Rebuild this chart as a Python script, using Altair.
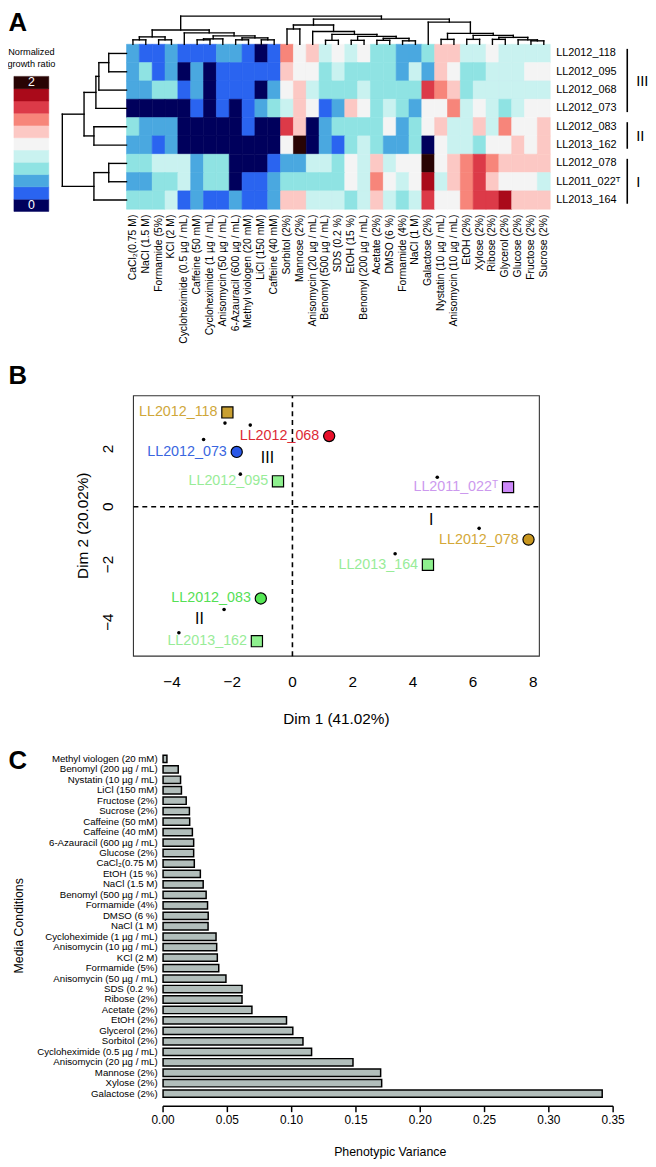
import altair as alt
import pandas as pd

FONT = "Liberation Sans"
W, H = 648, 1159
def px(v): return v - 8
def py(v): return v - 8

# ---------------- Panel A data ----------------
strains = ["LL2012_118", "LL2012_095", "LL2012_068", "LL2012_073", "LL2012_083",
           "LL2013_162", "LL2012_078", "LL2011_022ᵀ", "LL2013_164"]
conditions = ["CaCl₂(0.75 M)", "NaCl (1.5 M)", "Formamide (5%)", "KCl (2 M)",
              "Cycloheximide (0.5 µg / mL)", "Caffeine (50 mM)", "Cycloheximide (1 µg / mL)",
              "Anisomycin (50 µg / mL)", "6-Azauracil (600 µg / mL)", "Methyl viologen (20 mM)",
              "LiCl (150 mM)", "Caffeine (40 mM)", "Sorbitol (2%)", "Mannose (2%)",
              "Anisomycin (20 µg / mL)", "Benomyl (500 µg / mL)", "SDS (0.2 %)", "EtOH (15 %)",
              "Benomyl (200 µg / mL)", "Acetate (2%)", "DMSO (6 %)", "Formamide (4%)", "NaCl (1 M)",
              "Galactose (2%)", "Nystatin (10 µg / mL)", "Anisomycin (10 µg / mL)", "EtOH (2%)",
              "Xylose (2%)", "Ribose (2%)", "Glycerol (2%)", "Glucose (2%)", "Fructose (2%)",
              "Sucrose (2%)"]
# binned normalized growth ratio, 0 (=0) ... 10 (=2)
lv_118 = [2,1,1,2,1,1,1,2,2,1,0,1, 7,5,6,4,5,4,5,3,3,2, 2,3,6,6,4,4,5,4,4,4,4]
lv_095 = [2,3,1,2,0,2,0,1,1,1,1,1, 6,5,5,3,4,3,3,3,3,2, 4,2,6,5,3,3,4,4,4,5,5]
lv_068 = [2,2,3,3,1,2,0,1,1,1,0,2, 5,6,4,3,3,3,4,3,3,3, 3,8,7,6,3,4,4,4,4,4,4]
lv_073 = [0,0,0,0,0,1,0,1,0,1,2,3, 4,6,5,1,2,6,5,3,4,3, 2,5,5,7,4,5,4,3,4,5,5]
lv_083 = [3,2,2,2,0,0,0,0,0,1,0,0, 8,6,0,2,3,3,3,3,5,2, 3,5,6,4,4,6,4,7,5,5,6]
lv_162 = [2,2,1,2,0,0,0,0,0,0,0,0, 5,10,0,2,1,3,4,3,2,2, 3,0,5,4,4,3,5,5,6,5,6]
lv_078 = [3,3,4,4,4,2,3,3,0,0,0,1, 2,2,4,4,3,5,4,6,4,5, 5,10,5,6,7,8,7,6,6,6,6]
lv_022 = [2,2,3,3,4,2,3,3,0,1,1,2, 3,3,3,3,3,5,4,7,5,4, 5,9,4,6,7,8,6,5,5,5,4]
lv_164 = [3,3,3,4,1,2,1,1,2,1,1,2, 6,6,4,4,4,3,4,6,4,3, 4,8,5,5,7,8,8,9,6,6,6]
heat_levels = [lv_118, lv_095, lv_068, lv_073, lv_083, lv_162, lv_078, lv_022, lv_164]
ratio_colors = ["#00005c", "#2a64f0", "#4aa8e0", "#8fe3e3", "#c9f2f0", "#f4f4f4",
                "#fcc8c4", "#f7857a", "#dc3a48", "#aa0a1a", "#280404"]
group_names = ["III", "II", "I"]
group_first = [0, 4, 6]
group_last = [3, 5, 8]

# dendrograms: (left, right, merge height)
_a = (0, 1, 4.5); _b = (2, 3, 4.5); _A = (_a, _b, 7.5)
_c = (5, 6, 4.5); _c2 = (_c, 7, 5.5); _d = (8, 9, 4.5); _e = (10, 11, 4.5)
_f = (_d, _e, 6.5); _g = (_c2, _f, 8.5); _B = (4, _g, 11.5); _L = (_A, _B, 14.5)
_R1 = (12, 13, 15.5)
_w1 = (15, 16, 4); _w2 = (17, 18, 4); _w3 = (19, 20, 4); _w4 = (21, 22, 3.5)
_w5 = (_w3, _w4, 6); _w6 = (_w2, _w5, 8); _w7 = (_w1, _w6, 10); _R2 = (14, _w7, 13)
_R12 = (_R1, _R2, 19.5)
_p = (24, 25, 5); _q = (26, 27, 5); _r = (28, 29, 5); _s = (31, 32, 3.5); _s2 = (30, _s, 4.5)
_t = (_r, _s2, 7); _u = (_q, _t, 9); _v = (_p, _u, 11); _R3 = (23, _v, 22.5)
col_tree = (_L, (_R12, _R3, 25.5), 28.5)
row_tree = (((((0, 1, 18), 2, 28), 3, 31), (4, 5, 33), 43), (((6, 7, 18), 8, 33)), 65)

# ---------------- Panel B data ----------------
pca_strains = ["LL2012_118", "LL2012_068", "LL2012_073", "LL2012_095", "LL2012_083",
               "LL2013_162", "LL2011_022ᵀ", "LL2012_078", "LL2013_164"]
pca_dim1 = [-2.16, 1.22, -1.85, -0.48, -1.05, -1.18, 7.16, 7.84, 4.50]
pca_dim2 = [3.27, 2.45, 1.90, 0.88, -3.18, -4.66, 0.68, -1.14, -2.01]
pca_shape = ["square", "circle", "circle", "square", "circle", "square", "square", "circle", "square"]
pca_fill = ["#c9a032", "#e8102a", "#2a58e8", "#8ef08e", "#55e855", "#8ef08e", "#cc88f8", "#c8961e", "#8ef08e"]
pca_text = ["#cfa73a", "#dd2a36", "#3a66e0", "#98ec98", "#55e055", "#98ec98", "#cc99ee", "#d4a838", "#98ec98"]
centroid_dim1 = [-2.24, -1.40, -2.95, -1.73, -2.27, -3.77, 4.81, 6.20, 3.41]
centroid_dim2 = [2.90, 2.83, 2.33, 1.13, -3.56, -4.37, 1.02, -0.75, -1.63]
pca_groups = ["III", "II", "I"]
pca_group_dim1 = [-0.83, -3.09, 4.61]
pca_group_dim2 = [1.68, -3.91, -0.47]
b_xlim = [-5.28, 8.2]
b_ylim = [-5.18, 3.85]
b_xticks = [-4, -2, 0, 2, 4, 6, 8]
b_yticks = [-4, -2, 0, 2]

# ---------------- Panel C data ----------------
var_conditions = ["Methyl viologen (20 mM)", "Benomyl (200 µg / mL)", "Nystatin (10 µg / mL)",
                  "LiCl (150 mM)", "Fructose (2%)", "Sucrose (2%)", "Caffeine (50 mM)",
                  "Caffeine (40 mM)", "6-Azauracil (600 µg / mL)", "Glucose (2%)", "CaCl₂(0.75 M)",
                  "EtOH (15 %)", "NaCl (1.5 M)", "Benomyl (500 µg / mL)", "Formamide (4%)",
                  "DMSO (6 %)", "NaCl (1 M)", "Cycloheximide (1 µg / mL)", "Anisomycin (10 µg / mL)",
                  "KCl (2 M)", "Formamide (5%)", "Anisomycin (50 µg / mL)", "SDS (0.2 %)",
                  "Ribose (2%)", "Acetate (2%)", "EtOH (2%)", "Glycerol (2%)", "Sorbitol (2%)",
                  "Cycloheximide (0.5 µg / mL)", "Anisomycin (20 µg / mL)", "Mannose (2%)",
                  "Xylose (2%)", "Galactose (2%)"]
var_values = [0.003, 0.0118, 0.0136, 0.0143, 0.018, 0.0205, 0.0207, 0.0228, 0.0238, 0.0238,
              0.0243, 0.029, 0.0312, 0.0335, 0.0346, 0.0351, 0.035, 0.0412, 0.0417, 0.0422,
              0.0433, 0.0489, 0.0614, 0.0614, 0.0691, 0.096, 0.1009, 0.1088, 0.1155, 0.1477,
              0.1692, 0.170, 0.3415]
c_ticks = [0, 0.05, 0.10, 0.15, 0.20, 0.25, 0.30, 0.35]
c_tick_labels = ["0.00", "0.05", "0.10", "0.15", "0.20", "0.25", "0.30", "0.35"]

# ---------------- scales (layout) ----------------
sA_x = alt.Scale(domain=[0, 33], range=[px(128), px(557)], nice=False, zero=False)
sA_y = alt.Scale(domain=[0, 9], range=[py(37.5), py(204.5)], nice=False, zero=False)
sD_y = alt.Scale(domain=[0, 37.5], range=[py(37.5), py(0)], nice=False, zero=False)
sR_x = alt.Scale(domain=[0, 65], range=[px(128), px(63)], nice=False, zero=False)
sL_x = alt.Scale(domain=[0, 1], range=[px(14), px(49.3)], nice=False, zero=False)
sL_y = alt.Scale(domain=[0, 11], range=[py(206.7), py(70)], nice=False, zero=False)
sB_x = alt.Scale(domain=b_xlim, range=[px(135), px(546)], nice=False, zero=False)
sB_y = alt.Scale(domain=b_ylim, range=[py(657), py(393.3)], nice=False, zero=False)
sC_x = alt.Scale(domain=[0, 0.35], range=[px(165), px(620.7)], nice=False, zero=False)
sC_y = alt.Scale(domain=[0, 33], range=[py(755.7), py(1105.3)], nice=False, zero=False)

def txt(text, x, y, size, **kw):
    return alt.Chart(pd.DataFrame({"t": [text]})).mark_text(
        font=FONT, fontSize=size, **kw).encode(text="t:N", x=alt.value(px(x)), y=alt.value(py(y)))

layers = []

# ---- heatmap ----
hm = pd.DataFrame([{"row": r, "col": c, "level": v}
                   for r, lv in enumerate(heat_levels) for c, v in enumerate(lv)])
cscale = alt.Scale(domain=list(range(11)), range=ratio_colors)
layers.append(alt.Chart(hm).transform_calculate(c2="datum.col+1", r2="datum.row+1")
              .mark_rect(strokeWidth=0.6).encode(
    x=alt.X("col:Q", scale=sA_x, axis=None), x2="c2:Q",
    y=alt.Y("row:Q", scale=sA_y, axis=None), y2="r2:Q",
    fill=alt.Fill("level:O", scale=cscale, legend=None),
    stroke=alt.Stroke("level:O", scale=cscale, legend=None)))

# column labels
layers.append(alt.Chart(pd.DataFrame({"cond": conditions, "i": range(len(conditions))}))
              .transform_calculate(pos="datum.i+0.5")
              .mark_text(font=FONT, fontSize=10.5, angle=270, align="right", baseline="middle")
              .encode(x=alt.X("pos:Q", scale=sA_x, axis=None), y=alt.value(py(210)), text="cond:N"))
# row labels
layers.append(alt.Chart(pd.DataFrame({"s": strains, "i": range(len(strains))}))
              .transform_calculate(pos="datum.i+0.5")
              .mark_text(font=FONT, fontSize=11, align="left", baseline="middle")
              .encode(x=alt.value(px(563)), y=alt.Y("pos:Q", scale=sA_y, axis=None), text="s:N"))
# group bars
gdf = pd.DataFrame({"g": group_names, "a": group_first, "b": group_last})
layers.append(alt.Chart(gdf).transform_calculate(y0="datum.a+0.25", y1="datum.b+0.7")
              .mark_rule(color="black", strokeWidth=1.6)
              .encode(x=alt.value(px(635)), y=alt.Y("y0:Q", scale=sA_y, axis=None), y2="y1:Q"))
layers.append(alt.Chart(gdf).transform_calculate(m="(datum.a+datum.b+1)/2")
              .mark_text(font=FONT, fontSize=15, align="left", baseline="middle", color="black")
              .encode(x=alt.value(px(644)), y=alt.Y("m:Q", scale=sA_y, axis=None), text="g:N"))

# dendrograms
def seg_df(tree):
    segs = []
    def rec(node):
        if isinstance(node, int):
            return node + 0.5, 0.0
        left, right, h = node
        lx, lh = rec(left)
        rx, rh = rec(right)
        segs.append(dict(p1=lx, h1=lh, p2=lx, h2=h))
        segs.append(dict(p1=rx, h1=rh, p2=rx, h2=h))
        segs.append(dict(p1=lx, h1=h, p2=rx, h2=h))
        return (lx + rx) / 2, h
    rec(tree)
    return pd.DataFrame(segs)

layers.append(alt.Chart(seg_df(col_tree)).mark_rule(color="black", strokeWidth=1.4, strokeCap="square")
              .encode(x=alt.X("p1:Q", scale=sA_x, axis=None), x2="p2:Q",
                      y=alt.Y("h1:Q", scale=sD_y, axis=None), y2="h2:Q"))
layers.append(alt.Chart(seg_df(row_tree)).mark_rule(color="black", strokeWidth=1.4, strokeCap="square")
              .encode(x=alt.X("h1:Q", scale=sR_x, axis=None), x2="h2:Q",
                      y=alt.Y("p1:Q", scale=sA_y, axis=None), y2="p2:Q"))

# legend
layers.append(alt.Chart(pd.DataFrame({"level": list(range(11))}))
              .transform_calculate(x0="0", x1="1", l2="datum.level+1")
              .mark_rect(strokeWidth=0.5).encode(
    x=alt.X("x0:Q", scale=sL_x, axis=None), x2="x1:Q",
    y=alt.Y("level:Q", scale=sL_y, axis=None), y2="l2:Q",
    fill=alt.Fill("level:O", scale=cscale, legend=None),
    stroke=alt.Stroke("level:O", scale=cscale, legend=None)))
layers.append(alt.Chart(pd.DataFrame({"lab": ["2", "0"], "pos": [10.5, 0.5]}))
              .transform_calculate(xm="0.5")
              .mark_text(font=FONT, fontSize=12.5, color="white", baseline="middle")
              .encode(x=alt.X("xm:Q", scale=sL_x, axis=None), y=alt.Y("pos:Q", scale=sL_y, axis=None),
                      text="lab:N"))
layers.append(txt("Normalized", 31.7, 45.7, 9.3, baseline="middle"))
layers.append(txt("growth ratio", 31.7, 57.3, 9.3, baseline="middle"))
layers.append(txt("A", 8.5, 16, 26, fontWeight="bold", baseline="middle", align="left"))

# ---------------- Panel B ----------------
frame = pd.DataFrame({"x0": [b_xlim[0]], "x1": [b_xlim[1]], "y0": [b_ylim[0]], "y1": [b_ylim[1]]})
layers.append(alt.Chart(frame).mark_rect(fill="white", fillOpacity=0, stroke="#333333", strokeWidth=1.1)
              .encode(x=alt.X("x0:Q", scale=sB_x, axis=None), x2="x1:Q",
                      y=alt.Y("y0:Q", scale=sB_y, axis=None), y2="y1:Q"))
layers.append(alt.Chart(frame).transform_calculate(z="0")
              .mark_rule(color="black", strokeWidth=1.6, strokeDash=[5, 4])
              .encode(x=alt.X("z:Q", scale=sB_x, axis=None),
                      y=alt.Y("y0:Q", scale=sB_y, axis=None), y2="y1:Q"))
layers.append(alt.Chart(frame).transform_calculate(z="0")
              .mark_rule(color="black", strokeWidth=1.6, strokeDash=[5, 4])
              .encode(y=alt.Y("z:Q", scale=sB_y, axis=None),
                      x=alt.X("x0:Q", scale=sB_x, axis=None), x2="x1:Q"))
layers.append(alt.Chart(pd.DataFrame({"d1": centroid_dim1, "d2": centroid_dim2}))
              .mark_circle(size=13, color="black", opacity=1)
              .encode(x=alt.X("d1:Q", scale=sB_x, axis=None), y=alt.Y("d2:Q", scale=sB_y, axis=None)))
pdf = pd.DataFrame({"s": pca_strains, "d1": pca_dim1, "d2": pca_dim2, "shape": pca_shape})
layers.append(alt.Chart(pdf).mark_point(filled=True, size=128, stroke="black", strokeWidth=1.2, opacity=1)
              .encode(x=alt.X("d1:Q", scale=sB_x, axis=None), y=alt.Y("d2:Q", scale=sB_y, axis=None),
                      shape=alt.Shape("shape:N", scale=alt.Scale(domain=["circle", "square"],
                                                                 range=["circle", "square"]), legend=None),
                      fill=alt.Fill("s:N", scale=alt.Scale(domain=pca_strains, range=pca_fill), legend=None)))
layers.append(alt.Chart(pdf).mark_text(font=FONT, fontSize=14.5, align="right", baseline="middle", dx=-10)
              .encode(x=alt.X("d1:Q", scale=sB_x, axis=None), y=alt.Y("d2:Q", scale=sB_y, axis=None),
                      text="s:N",
                      color=alt.Color("s:N", scale=alt.Scale(domain=pca_strains, range=pca_text), legend=None)))
layers.append(alt.Chart(pd.DataFrame({"g": pca_groups, "d1": pca_group_dim1, "d2": pca_group_dim2}))
              .mark_text(font=FONT, fontSize=16, baseline="middle", color="black")
              .encode(x=alt.X("d1:Q", scale=sB_x, axis=None), y=alt.Y("d2:Q", scale=sB_y, axis=None),
                      text="g:N"))
layers.append(alt.Chart(pd.DataFrame({"v": b_xticks, "lab": [str(v).replace("-", "−") for v in b_xticks]}))
              .mark_text(font=FONT, fontSize=15.5, baseline="middle")
              .encode(x=alt.X("v:Q", scale=sB_x, axis=None), y=alt.value(py(683)), text="lab:N"))
layers.append(alt.Chart(pd.DataFrame({"v": b_yticks, "lab": [str(v).replace("-", "−") for v in b_yticks]}))
              .mark_text(font=FONT, fontSize=15.5, baseline="middle", angle=270)
              .encode(y=alt.Y("v:Q", scale=sB_y, axis=None), x=alt.value(px(109)), text="lab:N"))
layers.append(txt("Dim 1 (41.02%)", 340.5, 721, 15.5, baseline="middle"))
layers.append(txt("Dim 2 (20.02%)", 84, 525, 15.5, baseline="middle", angle=270))
layers.append(txt("B", 8.5, 373, 26, fontWeight="bold", baseline="middle", align="left"))

# ---------------- Panel C ----------------
cdf = pd.DataFrame({"cond": var_conditions, "val": var_values, "i": range(len(var_conditions))})
layers.append(alt.Chart(cdf).transform_calculate(z="0", y0="datum.i+0.15", y1="datum.i+0.85")
              .mark_rect(fill="#b2bebb", stroke="black", strokeWidth=1.5)
              .encode(x=alt.X("z:Q", scale=sC_x, axis=None), x2="val:Q",
                      y=alt.Y("y0:Q", scale=sC_y, axis=None), y2="y1:Q"))
layers.append(alt.Chart(cdf).transform_calculate(pos="datum.i+0.5")
              .mark_text(font=FONT, fontSize=9.8, align="right", baseline="middle")
              .encode(x=alt.value(px(159.5)), y=alt.Y("pos:Q", scale=sC_y, axis=None), text="cond:N"))
layers.append(alt.Chart(pd.DataFrame({"a": [c_ticks[0]], "b": [c_ticks[-1]]}))
              .mark_rule(color="black", strokeWidth=1.5)
              .encode(x=alt.X("a:Q", scale=sC_x, axis=None), x2="b:Q", y=alt.value(py(1112.7))))
tdf = pd.DataFrame({"v": c_ticks, "lab": c_tick_labels})
layers.append(alt.Chart(tdf).mark_rule(color="black", strokeWidth=1.5)
              .encode(x=alt.X("v:Q", scale=sC_x, axis=None), y=alt.value(py(1112.7)), y2=alt.value(py(1118.7))))
layers.append(alt.Chart(tdf).mark_text(font=FONT, fontSize=12, baseline="middle")
              .encode(x=alt.X("v:Q", scale=sC_x, axis=None), y=alt.value(py(1127)), text="lab:N"))
layers.append(txt("Phenotypic Variance", 395, 1159, 12.5, baseline="middle"))
layers.append(txt("Media Conditions", 19, 930, 12.5, baseline="middle", angle=270))
layers.append(txt("C", 8.5, 763, 26, fontWeight="bold", baseline="middle", align="left"))

chart = alt.layer(*layers).resolve_scale(
    x="independent", y="independent", fill="independent", stroke="independent",
    color="independent", shape="independent"
).properties(
    width=W, height=H, padding=0, autosize=alt.AutoSizeParams(type="none"),
    background="white"
).configure_view(stroke="transparent")

chart.save("out.html", embed_options={"renderer": "svg", "actions": False})
